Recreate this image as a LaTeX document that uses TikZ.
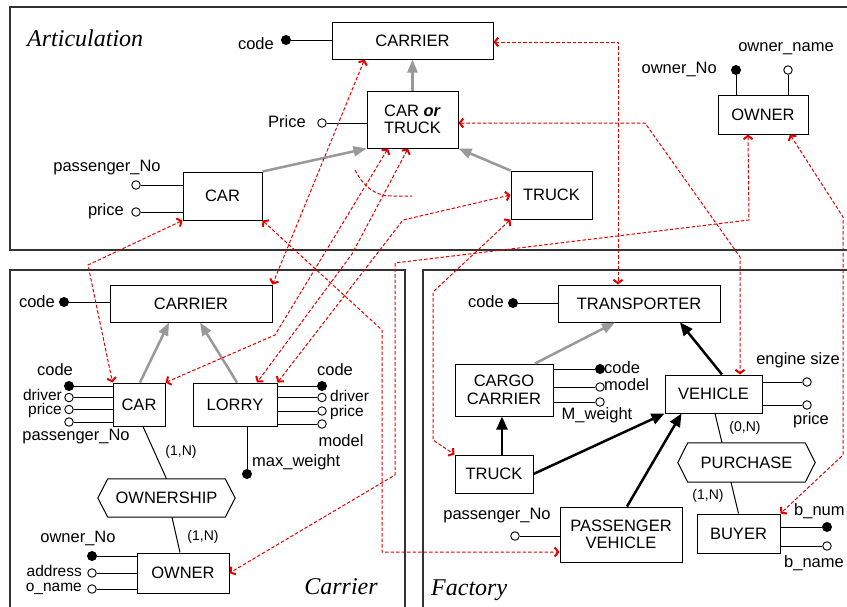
\documentclass[tikz,border=0pt]{standalone}
\usepackage{fontspec}
\setmainfont{Liberation Sans}
\newfontfamily\panelfont{Liberation Serif}
\usetikzlibrary{arrows.meta}
\begin{document}
\begin{tikzpicture}[x=1pt,y=-1pt,
  every node/.style={font=\fontsize{16.5}{17.5}\selectfont},
  box/.style={draw, line width=1pt, inner sep=0pt, align=center},
  hexn/.style={inner sep=0pt, align=center},
  hexline/.style={line width=1pt},
  txt/.style={inner sep=0pt},
  stk/.style={inner sep=0pt, font=\fontsize{15.5}{16}\selectfont},
  card/.style={inner sep=0pt, font=\fontsize{14}{16}\selectfont},
  ptitle/.style={inner sep=0pt, font=\panelfont\itshape\fontsize{24}{26}\selectfont},
  kc/.style={circle, fill=black, inner sep=0pt, minimum size=10pt},
  oc/.style={circle, draw, fill=white, line width=0.9pt, inner sep=0pt, minimum size=8.5pt},
  al/.style={line width=1pt},
  rel/.style={line width=1pt},
  frame/.style={line width=1.2pt, draw=black!80},
  gen/.style={draw=black!40, line width=2.5pt, -{Triangle[length=13pt,width=10pt]}},
  isa/.style={draw=black, line width=2.5pt, -{Triangle[length=13pt,width=11pt]}},
  corr/.style={draw=red!90!black, line width=1pt, dash pattern=on 3.5pt off 2pt,
    {Straight Barb[length=3.5pt,width=9pt,line width=2pt]}-{Straight Barb[length=3.5pt,width=9pt,line width=2pt]}},
  arcl/.style={draw=red!90!black, line width=1pt, dash pattern=on 3.5pt off 2pt}
]
\useasboundingbox (0,0) rectangle (847,606);
\fill[white] (0,0) rectangle (847,606);

% panel frames
\draw[frame] (10,7) rectangle (870,250);
\draw[frame] (10,270) rectangle (405,630);
\draw[frame] (423,270) rectangle (870,630);
\node[ptitle, anchor=west] (tArt) at (27,38) {Articulation};
\node[ptitle] (tCar) at (341,587) {Carrier};
\node[ptitle, anchor=west] (tFac) at (431,590) {Factory};

% ================= Articulation =================
\node[box, minimum width=161pt, minimum height=37pt] (cTop) at (412.5,40.5) {CARRIER};
\node[box, minimum width=91pt, minimum height=57pt] (cot) at (412.5,119.5) {CAR \textbf{\textit{or}}\\TRUCK};
\node[box, minimum width=79pt, minimum height=48pt] (carT) at (222.5,196) {CAR};
\node[box, minimum width=81pt, minimum height=48pt] (truckT) at (551.5,195) {TRUCK};
\node[box, minimum width=90pt, minimum height=39pt] (ownerT) at (763,114.5) {OWNER};

\node[kc] (aTc) at (286,40) {};
\node[txt, anchor=east] (lTc) at (274,44) {code};
\draw[al] (aTc) -- (aTc -| cTop.west);

\node[oc] (aTp) at (322,123) {};
\node[txt, anchor=east] (lTp) at (306,122) {Price};
\draw[al] (aTp) -- (aTp -| cot.west);

\node[oc] (aCp1) at (136,185) {};
\node[txt] (lCp1) at (107,168) {passenger\_No};
\draw[al] (aCp1) -- (aCp1 -| carT.west);
\node[oc] (aCp2) at (136,212) {};
\node[txt, anchor=east] (lCp2) at (124,211) {price};
\draw[al] (aCp2) -- (aCp2 -| carT.west);

\node[kc] (aOn) at (736,70) {};
\node[txt, anchor=east] (lOn) at (717,69) {owner\_No};
\draw[al] (aOn) -- (aOn |- ownerT.north);
\node[oc] (aOnm) at (788,70) {};
\node[txt] (lOnm) at (786,49) {owner\_name};
\draw[al] (aOnm) -- (aOnm |- ownerT.north);

\draw[gen] (cot.north) -- (cTop.south);
\draw[gen] (carT.north east) -- (cot.south west);
\draw[gen] (truckT.north west) -- (cot.south east);

\draw[arcl] (355,170) .. controls (364,187) and (375,196) .. (392,196) -- (412,196);

% ================= Carrier =================
\node[box, minimum width=162pt, minimum height=37pt] (carrC) at (191,303.5) {CARRIER};
\node[box, minimum width=52pt, minimum height=43pt] (carC) at (139,404.5) {CAR};
\node[box, minimum width=84pt, minimum height=43pt] (lorry) at (235,404.5) {LORRY};
\node[hexn, minimum width=137pt, minimum height=38pt] (ownership) at (166.5,498) {OWNERSHIP};
\draw[hexline] (ownership.west) -- ([xshift=10pt]ownership.north west) -- ([xshift=-10pt]ownership.north east) -- (ownership.east) -- ([xshift=-10pt]ownership.south east) -- ([xshift=10pt]ownership.south west) -- cycle;
\node[box, minimum width=92pt, minimum height=40pt] (ownerC) at (183,573) {OWNER};

\node[kc] (bCc) at (64,302) {};
\node[txt, anchor=east] (lCc) at (55,302) {code};
\draw[al] (bCc) -- (bCc -| carrC.west);

\node[kc] (cc1) at (69,386) {};
\node[oc] (cc2) at (69,397.5) {};
\node[oc] (cc3) at (69,409.5) {};
\node[oc] (cc4) at (69,422) {};
\foreach \n in {cc1,cc2,cc3,cc4} \draw[al] (\n) -- (\n -| carC.west);
\node[txt] (lcc1) at (55,370) {code};
\node[stk, anchor=east] (lcc2) at (62,395) {driver};
\node[stk, anchor=east] (lcc3) at (62,410.5) {price};
\node[txt] (lcc4) at (76,437) {passenger\_No};

\node[kc] (lc1) at (322,386) {};
\node[oc] (lc2) at (322,397.5) {};
\node[oc] (lc3) at (322,411) {};
\node[oc] (lc4) at (322,424) {};
\foreach \n in {lc1,lc2,lc3,lc4} \draw[al] (\n) -- (\n -| lorry.east);
\node[txt] (llc1) at (335,370) {code};
\node[stk, anchor=west] (llc2) at (330,396) {driver};
\node[stk, anchor=west] (llc3) at (330,412) {price};
\node[txt] (llc4) at (341,441) {model};
\node[kc] (mw) at (247,474) {};
\draw[al] (mw) -- (mw |- lorry.south);
\node[txt, anchor=west] (lmw) at (252,462) {max\_weight};

\node[kc] (oc1) at (92,556) {};
\node[oc] (oc2) at (92,573) {};
\node[oc] (oc3) at (92,589) {};
\foreach \n in {oc1,oc2,oc3} \draw[al] (\n) -- (\n -| ownerC.west);
\node[txt] (loc1) at (78,538) {owner\_No};
\node[stk, anchor=east] (loc2) at (82,571) {address};
\node[stk, anchor=east] (loc3) at (82,589) {o\_name};

\draw[gen] ([xshift=1pt]carC.north) -- ([xshift=-22pt]carrC.south);
\draw[gen] ([xshift=2pt]lorry.north) -- ([xshift=9pt]carrC.south);

\draw[rel] ([xshift=4pt]carC.south) -- (ownership.north);
\node[card] (k1) at (181,452) {(1,N)};
\draw[rel] ([xshift=5.5pt]ownership.south) -- ([xshift=-3pt]ownerC.north);
\node[card] (k2) at (203,537) {(1,N)};

% ================= Factory =================
\node[box, minimum width=162pt, minimum height=37pt] (transp) at (639,303.5) {TRANSPORTER};
\node[box, minimum width=98pt, minimum height=52pt] (cargo) at (504,390) {CARGO\\CARRIER};
\node[box, minimum width=97pt, minimum height=38pt] (vehicle) at (713.5,394) {VEHICLE};
\node[box, minimum width=78pt, minimum height=38pt] (truckF) at (494,474) {TRUCK};
\node[box, minimum width=122pt, minimum height=55pt] (passV) at (621,534.5) {PASSENGER\\VEHICLE};
\node[hexn, minimum width=137pt, minimum height=39pt] (purchase) at (746.5,462.5) {PURCHASE};
\draw[hexline] (purchase.west) -- ([xshift=10pt]purchase.north west) -- ([xshift=-10pt]purchase.north east) -- (purchase.east) -- ([xshift=-10pt]purchase.south east) -- ([xshift=10pt]purchase.south west) -- cycle;
\node[box, minimum width=83pt, minimum height=39pt] (buyer) at (738.5,533.5) {BUYER};

\node[kc] (tc) at (513,303) {};
\node[txt, anchor=east] (ltc) at (504,302) {code};
\draw[al] (tc) -- (tc -| transp.west);

\node[kc] (gc1) at (600,369) {};
\node[oc] (gc2) at (600,387) {};
\node[oc] (gc3) at (600,402) {};
\foreach \n in {gc1,gc2,gc3} \draw[al] (\n) -- (\n -| cargo.east);
\node[txt, anchor=west] (lgc1) at (604,368) {code};
\node[txt, anchor=west] (lgc2) at (604,385) {model};
\node[txt] (lgc3) at (597,415) {M\_weight};

\node[oc] (vc1) at (807,382) {};
\node[oc] (vc2) at (807,405) {};
\foreach \n in {vc1,vc2} \draw[al] (\n) -- (\n -| vehicle.east);
\node[txt] (lvc1) at (798,360) {engine size};
\node[txt] (lvc2) at (811,420) {price};

\node[oc] (pc) at (515,536) {};
\node[txt] (lpc) at (497,516) {passenger\_No};
\draw[al] (pc) -- (pc -| passV.west);

\node[kc] (bc1) at (827,527) {};
\node[oc] (bc2) at (827,546) {};
\foreach \n in {bc1,bc2} \draw[al] (\n) -- (\n -| buyer.east);
\node[txt, anchor=west] (lbc1) at (794,511) {b\_num};
\node[txt, anchor=west] (lbc2) at (784,563) {b\_name};

\draw[gen] ([xshift=31pt]cargo.north) -- ([xshift=-24pt]transp.south);
\draw[isa] ([xshift=8.5pt]vehicle.north) -- ([xshift=41pt]transp.south);
\draw[isa] ([xshift=8pt]truckF.north) -- ([xshift=-2pt]cargo.south);
\draw[isa] (truckF.east) -- (vehicle.south west);
\draw[isa] ([xshift=6pt]passV.north) -- ([xshift=-32pt]vehicle.south);

\draw[rel] ([xshift=1.5pt]vehicle.south) -- ([xshift=-24.5pt]purchase.north);
\node[card] (k3) at (745,428) {(0,N)};
\draw[rel] ([xshift=-15.5pt]purchase.south) -- (buyer.north);
\node[card] (k4) at (708,496) {(1,N)};

% ================= correspondences =================
\draw[corr] ([yshift=-1.5pt]cTop.east) -| ([xshift=-21pt]transp.north);
\draw[corr] ([yshift=-3.5pt]cot.east) -- (645,123) -- (740,257) -- ([xshift=26.5pt]vehicle.north);
\draw[corr] ([xshift=-15pt]ownerT.south) -- (749,220) -- (395,263) -- (395,475) -- (ownerC.east);
\draw[corr] ([xshift=27pt]ownerT.south) -- (843,217) -- (843,455) -- (buyer.north east);
\draw[corr] ([xshift=33pt]cTop.south west) -- (carrC.north east);
\draw[corr] (carT.south west) -- (88,265) -- (carC.north west);
\draw[corr] (carT.south east) -- (382,330) |- ([yshift=-17.5pt]passV.west);
\draw[corr] ([xshift=-24.5pt]cot.south) -- (275,335) -- (carC.north east);
\draw[corr] ([xshift=-4.5pt]cot.south) -- (352,254) -- ([xshift=22pt]lorry.north);
\draw[corr] (lorry.north east) -- (403,220) -- (truckT.west);
\draw[corr] (truckT.south west) -- (433,292) -- (433,440) -- (truckF.north west);
\end{tikzpicture}
\end{document}
